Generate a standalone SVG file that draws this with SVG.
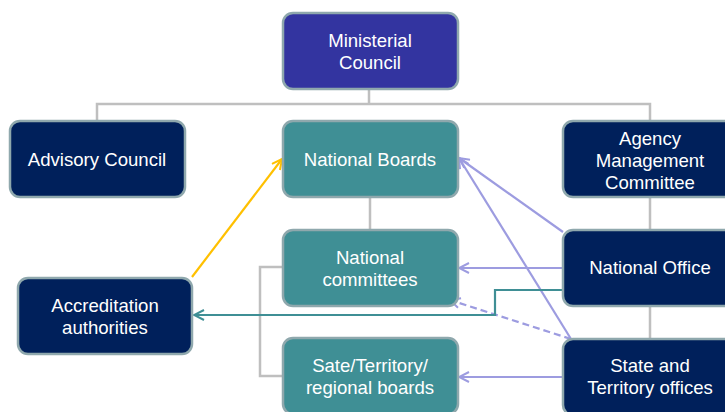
<svg xmlns="http://www.w3.org/2000/svg" width="725" height="412" viewBox="0 0 725 412">
<defs>
<style>
.box{stroke:#8fa8ad;stroke-width:2.5}
.navy{fill:#00205b}
.teal{fill:#3f8f95}
.royal{fill:#3334a0}
text{font-family:"Liberation Sans",Arial,sans-serif;font-size:18.6px;fill:#ffffff;text-anchor:middle}
.gray{stroke:#bfbfbf;stroke-width:2.5;fill:none}
.purple{stroke:#9d9ce0;stroke-width:2.2;fill:none}
</style>
<marker id="ap" viewBox="0 0 12 12" refX="11" refY="6" markerWidth="12" markerHeight="12" markerUnits="userSpaceOnUse" orient="auto"><path d="M1,1 L11,6 L1,11" fill="none" stroke="#9d9ce0" stroke-width="2"/></marker>
<marker id="ay" viewBox="0 0 12 12" refX="11" refY="6" markerWidth="12" markerHeight="12" markerUnits="userSpaceOnUse" orient="auto"><path d="M1,1 L11,6 L1,11" fill="none" stroke="#ffc000" stroke-width="2"/></marker>
<marker id="at" viewBox="0 0 12 12" refX="11" refY="6" markerWidth="12" markerHeight="12" markerUnits="userSpaceOnUse" orient="auto"><path d="M1,1 L11,6 L1,11" fill="none" stroke="#3f8f95" stroke-width="2"/></marker>
</defs>
<rect width="725" height="412" fill="#ffffff"/>
<g id="connectors">
<path class="gray" d="M369,89 V104 M97,121 V104 H650 V121"/>
<path class="gray" d="M370,197 V230"/>
<path class="gray" d="M650,197 V230 M650,306 V339"/>
<path class="gray" d="M283,267 H260 V376 H283"/>
<path d="M192,277 L282,159" stroke="#ffc000" stroke-width="2.2" fill="none" marker-end="url(#ay)"/>
<path class="purple" d="M563,232 L459,158" marker-end="url(#ap)"/>
<path class="purple" d="M571,339 L459,158" marker-end="url(#ap)"/>
<path class="purple" d="M563,268 H459" marker-end="url(#ap)"/>
<path class="purple" d="M571,339 L450,300" stroke-dasharray="7,4" marker-end="url(#ap)"/>
<path class="purple" d="M563,377 H459" marker-end="url(#ap)"/>
<path d="M563,290 H495 V315 H194" stroke="#3f8f95" stroke-width="2.2" fill="none" marker-end="url(#at)"/>
</g>
<g id="ministerial-council"><rect class="box royal" x="283" y="13" width="175" height="76" rx="10"/><text x="370" y="47">Ministerial</text><text x="370" y="69">Council</text></g>
<g id="advisory-council"><rect class="box navy" x="10" y="121" width="175" height="76" rx="10"/><text x="97" y="166">Advisory Council</text></g>
<g id="national-boards"><rect class="box teal" x="283" y="121" width="175" height="76" rx="10"/><text x="370" y="166">National Boards</text></g>
<g id="agency-management-committee"><rect class="box navy" x="563" y="121" width="175" height="76" rx="10"/><text x="650" y="145">Agency</text><text x="650" y="167">Management</text><text x="650" y="189">Committee</text></g>
<g id="national-committees"><rect class="box teal" x="283" y="230" width="175" height="76" rx="10"/><text x="370" y="264">National</text><text x="370" y="286">committees</text></g>
<g id="national-office"><rect class="box navy" x="563" y="230" width="175" height="76" rx="10"/><text x="650" y="274">National Office</text></g>
<g id="accreditation-authorities"><rect class="box navy" x="18" y="278" width="174" height="76" rx="10"/><text x="105" y="312">Accreditation</text><text x="105" y="334">authorities</text></g>
<g id="state-territory-boards"><rect class="box teal" x="283" y="338" width="175" height="76" rx="10"/><text x="370" y="372">Sate/Territory/</text><text x="370" y="394">regional boards</text></g>
<g id="state-territory-offices"><rect class="box navy" x="563" y="339" width="175" height="76" rx="10"/><text x="650" y="372">State and</text><text x="650" y="394">Territory offices</text></g>
</svg>
